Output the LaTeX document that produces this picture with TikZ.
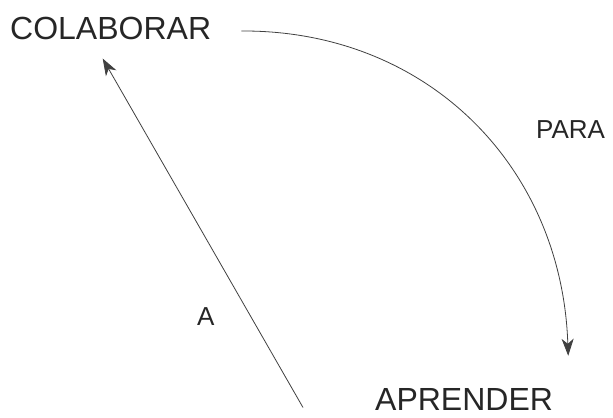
\documentclass[tikz,border=0pt]{standalone}
\usepackage{fontspec}
\setmainfont{Liberation Sans}
\usepackage{xcolor}
\usetikzlibrary{arrows.meta,positioning}

\begin{document}
\begin{tikzpicture}[x=1bp, y=-1bp, >={Stealth[length=17bp, width=12bp, inset=5bp]},
  word/.style={inner sep=0pt, anchor=base west, text=black!85, font=\fontsize{32bp}{36bp}\selectfont},
  ann/.style={inner sep=0pt, anchor=base west, text=black!85, font=\fontsize{26bp}{30bp}\selectfont},
  link/.style={->, draw=black!75, line width=0.8bp}]
\useasboundingbox (0,0) rectangle (613,417);
\node[word] (colab) at (10,39) {COLABORAR};
\node[word] (apr) at (375,410) {APRENDER};
\node[ann] (para) at (536,138) {PARA};
\node[ann] (a) at (197,325) {A};
% arco de COLABORAR a APRENDER
\draw[link] ([xshift=30bp, yshift=-3bp]colab.east) .. controls (428,30) and (562,167) .. ([xshift=15bp, yshift=32bp]apr.north east);
% flecha de APRENDER a COLABORAR
\draw[link] ([xshift=-72bp, yshift=-8.5bp]apr.west) -- ([xshift=-8bp, yshift=-19bp]colab.south);
\end{tikzpicture}
\end{document}
